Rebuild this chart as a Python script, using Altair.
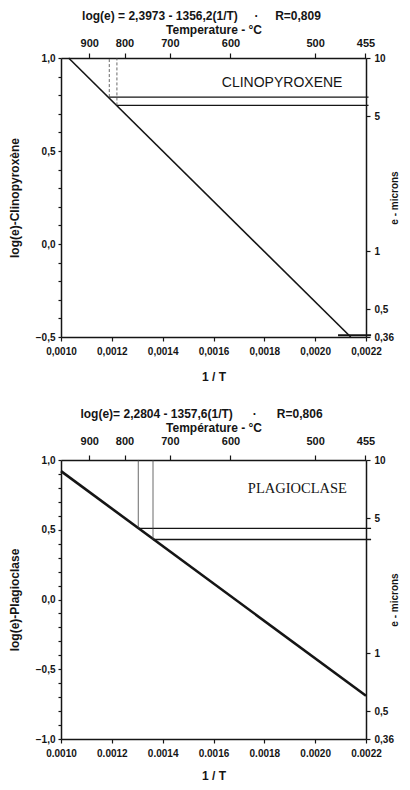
import altair as alt
import pandas as pd

# ---------------- data ----------------
inv_t_ticks = [0.0010, 0.0012, 0.0014, 0.0016, 0.0018, 0.0020, 0.0022]
temp_ticks = [900, 800, 700, 600, 500, 455]          # deg C, placed at 1/T
e_ticks = [10, 5, 1, 0.5, 0.36]                       # e - microns (right axis)

cpx_y_ticks = [-0.5, -0.4, -0.3, -0.2, -0.1, 0.0, 0.1, 0.2, 0.3, 0.4, 0.5,
               0.6, 0.7, 0.8, 0.9, 1.0]
plg_y_ticks = [-1.0, -0.9, -0.8, -0.7, -0.6, -0.5, -0.4, -0.3, -0.2, -0.1, 0.0,
               0.1, 0.2, 0.3, 0.4, 0.5, 0.6, 0.7, 0.8, 0.9, 1.0]

# Clinopyroxene regression line (end points)
cpx_line_x = [0.00103, 0.00214]
cpx_line_y = [1.0, -0.5]
# horizontal cut-off lines + vertical guides
cpx_cut_x = [0.00119, 0.00122]
cpx_cut_y = [0.79, 0.745]
cpx_cut_xend = [0.00221, 0.00221]
# short segment at e = 0.36 level
cpx_floor_x = [0.00209]
cpx_floor_xend = [0.00222]
cpx_floor_y = [-0.49]

# Plagioclase regression line (end points)
plg_line_x = [0.0010, 0.0022]
plg_line_y = [0.92, -0.69]
plg_cut_x = [0.001304, 0.001362]
plg_cut_y = [0.51, 0.43]
plg_cut_xend = [0.00222, 0.00222]

cpx_label = ["CLINOPYROXENE"]
cpx_label_x = [0.00187]
cpx_label_y = [0.865]
plg_label = ["PLAGIOCLASE"]
plg_label_x = [0.00193]
plg_label_y = [0.79]

SANS = "Liberation Sans"
SERIF = "Liberation Serif"
INK = "#151515"
SP = "\u00a0"


def panel(title, ytitle, ydom, yticks, line_x, line_y, line_w,
          cut_x, cut_y, cut_xend, vdash, label, label_x, label_y, label_font,
          label_size, xcomma, width, height, top_pad, bottom_title_pad,
          floor=None):
    xscale = alt.Scale(domain=[0.0010, 0.0022], nice=False, zero=False)
    yscale = alt.Scale(domain=ydom, nice=False, zero=False)

    if xcomma:
        xlab = "replace(format(datum.value, '.4f'), '.', ',')"
    else:
        xlab = "format(datum.value, '.4f')"
    ylab = ("abs(round(datum.value*10)) % 5 == 0 ? "
            "replace(format(datum.value, '.1f'), '.', ',') : ''")

    xaxis = alt.Axis(orient="bottom", values=inv_t_ticks, labelExpr=xlab,
                     title="1 / T", tickSize=4, labelPadding=5,
                     titlePadding=bottom_title_pad,
                     labelFlush=False, titleFontSize=12)
    yaxis = alt.Axis(orient="left", values=yticks, labelExpr=ylab,
                     title=ytitle, tickSize=3, labelPadding=3, titlePadding=14,
                     labelFlush=False, titleFontSize=12)

    reg_df = pd.DataFrame({"x": line_x, "y": line_y})
    reg = alt.Chart(reg_df).mark_line(color=INK, strokeWidth=line_w).encode(
        x=alt.X("x:Q", scale=xscale, axis=xaxis),
        y=alt.Y("y:Q", scale=yscale, axis=yaxis),
    )

    cut_df = pd.DataFrame({"x": cut_x, "y": cut_y, "xend": cut_xend,
                           "ytop": [ydom[1]] * len(cut_x)})
    hl = alt.Chart(cut_df).mark_rule(color=INK, strokeWidth=1.3).encode(
        x=alt.X("x:Q", axis=xaxis), x2="xend:Q", y=alt.Y("y:Q", axis=yaxis))
    vstyle = dict(color="#444", strokeWidth=0.8)
    if vdash:
        vstyle["strokeDash"] = [3, 2]
    vl = alt.Chart(cut_df).mark_rule(**vstyle).encode(
        x=alt.X("x:Q", axis=xaxis), y=alt.Y("y:Q", axis=yaxis), y2="ytop:Q")

    lab_df = pd.DataFrame({"t": label, "x": label_x, "y": label_y})
    txt = alt.Chart(lab_df).mark_text(font=label_font, fontSize=label_size,
                                      color=INK, fontWeight="normal").encode(
        x=alt.X("x:Q", axis=xaxis), y=alt.Y("y:Q", axis=yaxis), text="t:N")

    layers = [reg, hl, vl, txt]
    if floor is not None:
        fx, fxe, fy = floor
        fl_df = pd.DataFrame({"x": fx, "xend": fxe, "y": fy})
        layers.append(alt.Chart(fl_df).mark_rule(color=INK, strokeWidth=2).encode(
            x=alt.X("x:Q", axis=xaxis), x2="xend:Q", y=alt.Y("y:Q", axis=yaxis)))
    inner = alt.layer(*layers)

    temp_df = pd.DataFrame({"T": temp_ticks, "invT": [1.0 / t for t in temp_ticks]})
    aux = alt.Chart(temp_df).mark_point(opacity=0).encode(
        x=alt.X("invT:Q", scale=xscale,
                axis=alt.Axis(orient="top", values=[1.0 / t for t in temp_ticks],
                              labelExpr="format(1/datum.value, '.0f')",
                              title=title[1], tickSize=5, labelPadding=top_pad,
                              titlePadding=1, labelFlush=False, labelFontSize=11,
                              titleFontSize=12)),
        y=alt.YDatum(1, scale=alt.Scale(type="log", domain=[0.36, 10], nice=False),
                     axis=alt.Axis(orient="right", values=e_ticks,
                                   labelExpr="replace(toString(datum.value), '.', ',')",
                                   title="e - microns", tickSize=4, labelPadding=4,
                                   titlePadding=6, titleAngle=270, labelFlush=False)),
    )

    return (alt.layer(inner, aux)
            .resolve_scale(y="independent")
            .resolve_axis(x="independent", y="independent")
            .properties(width=width, height=height,
                        title=alt.Title(title[0], fontSize=12, font=SANS,
                                        fontWeight="bold", anchor="middle",
                                        offset=0, dx=-12, color=INK)))


top = panel(("log(e) = 2,3973 - 1356,2(1/T)" + SP * 5 + "·" + SP * 5 + "R=0,809",
             "Temperature - °C"),
            "log(e)-Clinopyroxène", [-0.5, 1.0], cpx_y_ticks,
            cpx_line_x, cpx_line_y, 1.6,
            cpx_cut_x, cpx_cut_y, cpx_cut_xend, True,
            cpx_label, cpx_label_x, cpx_label_y, SANS, 14, True, 305, 279,
            5, 15,
            floor=(cpx_floor_x, cpx_floor_xend, cpx_floor_y))

bottom = panel(("log(e)= 2,2804 - 1357,6(1/T)" + SP * 6 + "·" + SP * 6 + "R=0,806",
                "Température - °C"),
               "log(e)-Plagioclase", [-1.0, 1.0], plg_y_ticks,
               plg_line_x, plg_line_y, 2.6,
               plg_cut_x, plg_cut_y, plg_cut_xend, False,
               plg_label, plg_label_x, plg_label_y, SERIF, 14.5, False, 305, 279,
               9, 12)

chart = (alt.vconcat(top, bottom, spacing=26)
         .properties(padding={"left": 0, "top": 2, "right": 0, "bottom": 0})
         .configure_view(strokeWidth=0)
         .configure_axis(grid=False, domainColor=INK, domainWidth=1.5,
                         tickColor=INK, tickWidth=1.2,
                         labelFont=SANS, labelFontSize=10, labelFontWeight="bold",
                         labelColor=INK, titleFont=SANS, titleFontSize=10,
                         titleFontWeight="bold", titleColor=INK))

chart.save("out.html", embed_options={"renderer": "svg", "actions": False})
